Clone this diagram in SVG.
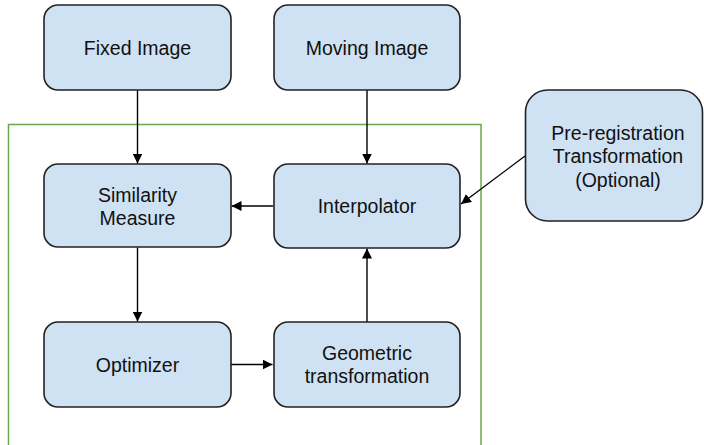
<svg xmlns="http://www.w3.org/2000/svg" width="704" height="445" viewBox="0 0 704 445">
  <defs>
    <marker id="arrow" viewBox="0 0 10 10" refX="10" refY="5" markerWidth="10" markerHeight="10" markerUnits="userSpaceOnUse" orient="auto">
      <path d="M0,0 L10,5 L0,10 z" fill="#000"/>
    </marker>
  </defs>
  <style>
    .box { fill: #cfe2f3; stroke: #222; stroke-width: 1.6; }
    .lbl { font-family: "Liberation Sans", Arial, sans-serif; font-size: 19.5px; fill: #111; text-anchor: middle; }
    .edge { stroke: #000; stroke-width: 1.4; fill: none; marker-end: url(#arrow); }
    .frame { fill: none; stroke: #6aa84f; stroke-width: 1.5; }
  </style>
  <rect width="704" height="445" fill="#fff"/>

  <!-- registration loop frame -->
  <rect class="frame" x="8.5" y="124.5" width="472.5" height="340"/>

  <g id="connectors">
    <line class="edge" x1="137.5" y1="90" x2="137.5" y2="163.5"/>
    <line class="edge" x1="367" y1="90" x2="367" y2="163.5"/>
    <line class="edge" x1="273" y1="206" x2="231.5" y2="206"/>
    <line class="edge" x1="137.5" y1="247.5" x2="137.5" y2="321.5"/>
    <line class="edge" x1="231" y1="364.5" x2="272.5" y2="364.5"/>
    <line class="edge" x1="367" y1="322" x2="367" y2="248.5"/>
    <line class="edge" x1="525" y1="156" x2="461" y2="204"/>
  </g>

  <g id="fixed-image">
    <rect class="box" x="44" y="5" width="187" height="85" rx="14"/>
    <text class="lbl" x="137.5" y="55">Fixed Image</text>
  </g>
  <g id="moving-image">
    <rect class="box" x="274" y="5" width="186" height="85" rx="14"/>
    <text class="lbl" x="367" y="55">Moving Image</text>
  </g>
  <g id="pre-registration">
    <rect class="box" x="525.5" y="90" width="177" height="131" rx="22"/>
    <text class="lbl" x="618" y="139.5">Pre-registration</text>
    <text class="lbl" x="618" y="163">Transformation</text>
    <text class="lbl" x="618" y="186.5">(Optional)</text>
  </g>
  <g id="similarity-measure">
    <rect class="box" x="44" y="164" width="187" height="83" rx="14"/>
    <text class="lbl" x="137.5" y="201.5">Similarity</text>
    <text class="lbl" x="137.5" y="225">Measure</text>
  </g>
  <g id="interpolator">
    <rect class="box" x="274" y="164" width="186" height="84" rx="14"/>
    <text class="lbl" x="367" y="213">Interpolator</text>
  </g>
  <g id="optimizer">
    <rect class="box" x="44" y="322" width="187" height="85" rx="14"/>
    <text class="lbl" x="137.5" y="371.5">Optimizer</text>
  </g>
  <g id="geometric-transformation">
    <rect class="box" x="274" y="322" width="186" height="85" rx="14"/>
    <text class="lbl" x="367" y="359.5">Geometric</text>
    <text class="lbl" x="367" y="383">transformation</text>
  </g>
</svg>
